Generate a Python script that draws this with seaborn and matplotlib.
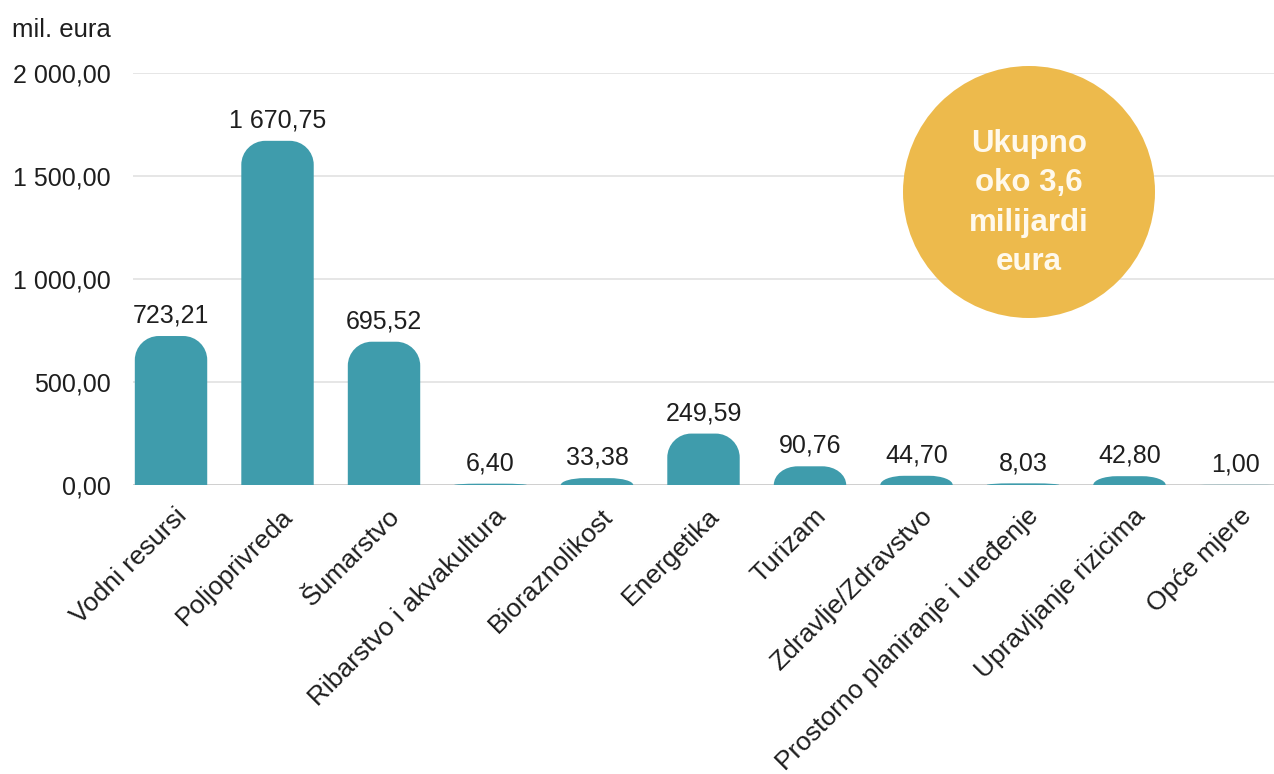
import matplotlib
matplotlib.use('Agg')
import matplotlib.pyplot as plt
import matplotlib.transforms as mtransforms
from matplotlib.path import Path
from matplotlib.patches import PathPatch, Ellipse
import seaborn as sns
import pandas as pd

categories = ['Vodni resursi', 'Poljoprivreda', 'Šumarstvo', 'Ribarstvo i akvakultura',
              'Bioraznolikost', 'Energetika', 'Turizam', 'Zdravlje/Zdravstvo',
              'Prostorno planiranje i uređenje', 'Upravljanje rizicima', 'Opće mjere']
values = [723.21, 1670.75, 695.52, 6.40, 33.38, 249.59, 90.76, 44.70, 8.03, 42.80, 1.00]
y_ticks = [0, 500, 1000, 1500, 2000]
unit_label = 'mil. eura'
total_text = 'Ukupno\noko 3,6\nmilijardi\neura'

bar_color = '#3F9CAC'
circle_color = '#EDBA4C'


def hr_fmt(v):
    # croatian style: space as thousands sep, comma decimal
    s = f'{v:,.2f}'
    return s.replace(',', ' ').replace('.', ',')


def rounded_top(x0, w, h, rx, ry):
    rx = min(rx, w / 2)
    ry = min(ry, h)
    k = 0.5523
    verts = [(x0, 0), (x0, h - ry),
             (x0, h - ry + k * ry), (x0 + rx - k * rx, h), (x0 + rx, h),
             (x0 + w - rx, h),
             (x0 + w - rx + k * rx, h), (x0 + w, h - ry + k * ry), (x0 + w, h - ry),
             (x0 + w, 0), (x0, 0)]
    codes = [Path.MOVETO, Path.LINETO,
             Path.CURVE4, Path.CURVE4, Path.CURVE4,
             Path.LINETO,
             Path.CURVE4, Path.CURVE4, Path.CURVE4,
             Path.LINETO, Path.CLOSEPOLY]
    return Path(verts, codes)


df = pd.DataFrame({'kategorija': categories, 'iznos': values})

sns.set_style('white')
plt.rcParams['font.family'] = ['Liberation Sans', 'DejaVu Sans']

W, H = 1274, 774
fig = plt.figure(figsize=(W / 100, H / 100), dpi=100)
ax = fig.add_axes([133 / W, 1 - 485 / H, 1 - 133 / W, (485 - 73) / H])

sns.barplot(data=df, x='kategorija', y='iznos', color=bar_color, width=0.68,
            saturation=1, ax=ax, zorder=3)

ax.set_xlim(-0.357, 10.357)
ax.set_ylim(0, 2000)

# swap plain rectangles for ones with rounded tops
px_x = 106.5
px_y = 412 / 2000
radius = 24
bars = list(ax.patches)
for p in bars:
    x0, w, h = p.get_x(), p.get_width(), p.get_height()
    p.set_visible(False)
    if h <= 0:
        continue
    path = rounded_top(x0, w, h, radius / px_x, radius / px_y)
    ax.add_patch(PathPatch(path, facecolor=bar_color, edgecolor='none', zorder=3))

for i, v in enumerate(values):
    ax.annotate(hr_fmt(v), (i, v), xytext=(0, 6), textcoords='offset points',
                ha='center', va='bottom', fontsize=18, color='#1E1E1E', zorder=4)

ax.set_yticks(y_ticks)
ax.set_yticklabels([hr_fmt(t) for t in y_ticks], fontsize=18, color='#1E1E1E')
ax.tick_params(axis='y', length=0, pad=16)
ax.tick_params(axis='x', length=0, pad=4)
ax.set_xticks(range(len(categories)))
ax.set_xticklabels(categories, rotation=45, ha='right', va='center',
                   rotation_mode='anchor', fontsize=19, color='#1E1E1E')
shift = mtransforms.ScaledTranslation(12 / 100, -22 / 100, fig.dpi_scale_trans)
for lab in ax.get_xticklabels():
    lab.set_transform(lab.get_transform() + shift)

ax.set_xlabel('')
ax.set_ylabel('')
ax.yaxis.grid(True, color='#E2E2E2', linewidth=1.2, zorder=0)
ax.set_axisbelow(True)
for s in ax.spines.values():
    s.set_visible(False)
ax.axhline(0, color='#CCCCCC', linewidth=1.2, zorder=2)

fig.text(12 / W, 1 - 30 / H, unit_label, ha='left', va='center', fontsize=18.5, color='#1E1E1E')

# total circle, drawn in figure coords so it stays round
cx, cy, r = 1029, 192, 126
fig.patches.append(Ellipse((cx / W, 1 - cy / H), 2 * r / W, 2 * r / H,
                           transform=fig.transFigure, facecolor=circle_color,
                           edgecolor='none', zorder=5))
fig.text(cx / W, 1 - 203 / H, total_text, ha='center', va='center', fontsize=22.5,
         fontweight='bold', color='#FFF9EC', linespacing=1.42, zorder=6)

fig.savefig('out.png', dpi=100)
